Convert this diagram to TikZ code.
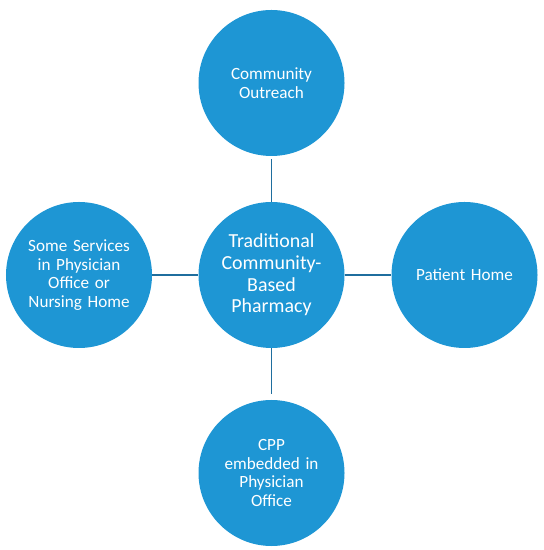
\documentclass[tikz,border=0pt]{standalone}
\usepackage{fontspec}
\setmainfont{Carlito}
\definecolor{bubble}{HTML}{1E96D4}
\definecolor{spoke}{HTML}{1F6E9E}
\begin{document}
\begin{tikzpicture}[
 x=1bp,y=1bp,
 circ/.style={circle,fill=bubble,text=white,align=center,minimum size=146bp,inner sep=0pt,text width=106bp,font=\fontsize{17.2}{18.6}\selectfont},
 hub/.style={circ,font=\fontsize{20}{21.7}\selectfont},
 link/.style={line width=1.5pt,draw=spoke}]
\useasboundingbox (0,0) rectangle (544,550);
\node[hub] (c) at (271.5,275) {Traditional\\Community-\\Based\\Pharmacy};
\node[circ] (t) at (271.5,467) {Community\\Outreach};
\node[circ] (l) at (79,275) {Some Services\\in Physician\\Office or\\Nursing Home};
\node[circ] (r) at (464.5,275) {Patient Home};
\node[circ] (b) at (271.5,77) {CPP\\embedded in\\Physician\\Office};
\draw[link,shorten <=3bp] (t)--(c);\draw[link] (l)--(c);
\draw[link] (c)--(r);\draw[link,shorten >=6bp] (c)--(b);
\end{tikzpicture}
\end{document}
